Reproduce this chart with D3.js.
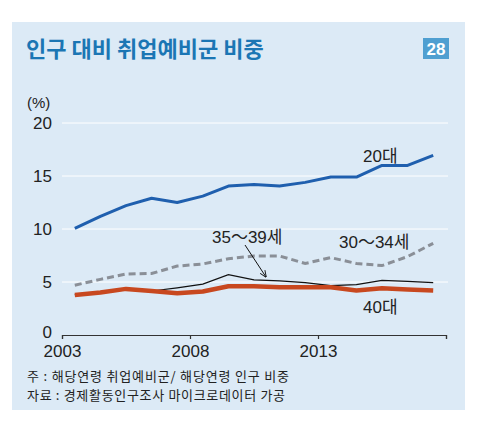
<!DOCTYPE html>
<html>
<head>
<meta charset="utf-8">
<script src="https://cdn.jsdelivr.net/npm/d3@7"></script>
<style>
  body { margin: 0; background: #fff; }
  text { font-family: "Liberation Sans", "Noto Sans CJK KR", sans-serif; }
  .kr { font-family: "Noto Sans CJK KR", sans-serif; }
</style>
</head>
<body>
<div id="chart"></div>
<script>
// Data (share of population, %)
const years = d3.range(2003, 2018);
const age20s = [10.05, 11.2, 12.2, 12.9, 12.5, 13.1, 14.05, 14.2, 14.05, 14.4, 14.9, 14.9, 16.0, 16.0, 16.95];
const age30to34 = [4.7, 5.25, 5.75, 5.8, 6.5, 6.7, 7.2, 7.45, 7.45, 6.75, 7.3, 6.75, 6.55, 7.4, 8.65];
const age35to39 = [3.8, 4.0, 4.35, 4.15, 4.45, 4.8, 5.7, 5.2, 5.1, 4.95, 4.65, 4.75, 5.15, 5.05, 4.95];
const age40s = [3.77, 4.0, 4.35, 4.15, 3.93, 4.1, 4.6, 4.6, 4.5, 4.5, 4.5, 4.2, 4.4, 4.3, 4.2];
const yTicks = [0, 5, 10, 15, 20];
const xTicks = [2003, 2008, 2013, 2018];
const xTickLabels = ["2003", "2008", "2013", ""];

const W = 487, H = 422;
const svg = d3.select("#chart").append("svg")
    .attr("width", W).attr("height", H);

// Panel background
svg.append("rect")
    .attr("x", 12).attr("y", 22)
    .attr("width", 453).attr("height", 388)
    .attr("fill", "#dceaf6");

// Title and badge
svg.append("text").attr("class", "kr")
    .attr("x", 26).attr("y", 57)
    .attr("font-size", 22).attr("font-weight", "bold")
    .attr("fill", "#1b76b4")
    .text("인구 대비 취업예비군 비중");
svg.append("rect")
    .attr("x", 423).attr("y", 38).attr("width", 26).attr("height", 21)
    .attr("fill", "#4f9fd1");
svg.append("text")
    .attr("x", 436).attr("y", 55).attr("text-anchor", "middle")
    .attr("font-size", 17).attr("font-weight", "bold").attr("fill", "#fff")
    .text("28");

// Scales
const x = d3.scaleLinear().domain([2003, 2018]).range([62, 446]);
const y = d3.scaleLinear().domain([0, 20]).range([335, 123]);
const xp = yr => x(yr + 0.5);

// Grid lines
svg.append("g")
    .selectAll("line")
    .data(yTicks.filter(d => d > 0))
    .enter().append("line")
    .attr("x1", 62).attr("x2", 448)
    .attr("y1", d => y(d)).attr("y2", d => y(d))
    .attr("stroke", "#fff").attr("stroke-width", 1);

// Y labels
svg.append("g")
    .selectAll("text")
    .data(yTicks)
    .enter().append("text")
    .attr("x", 52)
    .attr("y", d => y(d) + (d === 0 ? 3 : 6))
    .attr("text-anchor", "end")
    .attr("font-size", 17).attr("fill", "#222")
    .text(d => d);
svg.append("text")
    .attr("x", 27).attr("y", 108)
    .attr("font-size", 15).attr("fill", "#222")
    .text("(%)");

// X axis
const xAxis = svg.append("g")
    .attr("transform", "translate(0,335)")
    .call(d3.axisBottom(x).tickValues(xTicks).tickSize(4)
        .tickFormat((d, i) => xTickLabels[i]));
xAxis.select(".domain").attr("stroke", "#333").attr("stroke-width", 1.2);
xAxis.selectAll(".tick line").attr("stroke", "#333").attr("stroke-width", 1.2);
xAxis.selectAll(".tick text")
    .attr("font-size", 17).attr("fill", "#222").attr("dy", "0.9em")
    .style("font-family", "Liberation Sans, sans-serif");

// Lines
const line = d3.line()
    .x((d, i) => xp(years[i]))
    .y(d => y(d));

svg.append("path").datum(age30to34)
    .attr("d", line).attr("fill", "none")
    .attr("stroke", "#8a8f97").attr("stroke-width", 3)
    .attr("stroke-dasharray", "7,4");
svg.append("path").datum(age35to39)
    .attr("d", line).attr("fill", "none")
    .attr("stroke", "#111").attr("stroke-width", 1.2);
svg.append("path").datum(age40s)
    .attr("d", line).attr("fill", "none")
    .attr("stroke", "#c8481f").attr("stroke-width", 4.5)
    .attr("stroke-linejoin", "round");
svg.append("path").datum(age20s)
    .attr("d", line).attr("fill", "none")
    .attr("stroke", "#1f5fae").attr("stroke-width", 3)
    .attr("stroke-linejoin", "round");

// Series labels
const labels = [
    { t: "20대", x: 363, y: 162 },
    { t: "35～39세", x: 212, y: 243 },
    { t: "30～34세", x: 339, y: 248 },
    { t: "40대", x: 363, y: 313 }
];
svg.append("g").selectAll("text")
    .data(labels).enter().append("text")
    .attr("x", d => d.x).attr("y", d => d.y)
    .attr("font-size", 17).attr("fill", "#222")
    .text(d => d.t);

// Arrow pointing at 35~39 line
svg.append("defs").append("marker")
    .attr("id", "arrow").attr("viewBox", "0 0 10 10")
    .attr("refX", 9).attr("refY", 5)
    .attr("markerWidth", 7).attr("markerHeight", 7)
    .attr("orient", "auto")
    .append("path").attr("d", "M0,1 L10,5 L0,9").attr("fill", "none")
    .attr("stroke", "#111").attr("stroke-width", 1.3);
svg.append("line")
    .attr("x1", 245).attr("y1", 245)
    .attr("x2", 266).attr("y2", 277)
    .attr("stroke", "#111").attr("stroke-width", 1)
    .attr("marker-end", "url(#arrow)");

// Notes
svg.append("text").attr("class", "kr")
    .attr("x", 27).attr("y", 381)
    .attr("font-size", 13).attr("fill", "#222")
    .attr("textLength", 262).attr("lengthAdjust", "spacing")
    .text("주 : 해당연령 취업예비군/ 해당연령 인구 비중");
svg.append("text").attr("class", "kr")
    .attr("x", 27).attr("y", 400)
    .attr("font-size", 13).attr("fill", "#222")
    .attr("textLength", 258).attr("lengthAdjust", "spacing")
    .text("자료 : 경제활동인구조사 마이크로데이터 가공");
</script>
</body>
</html>
